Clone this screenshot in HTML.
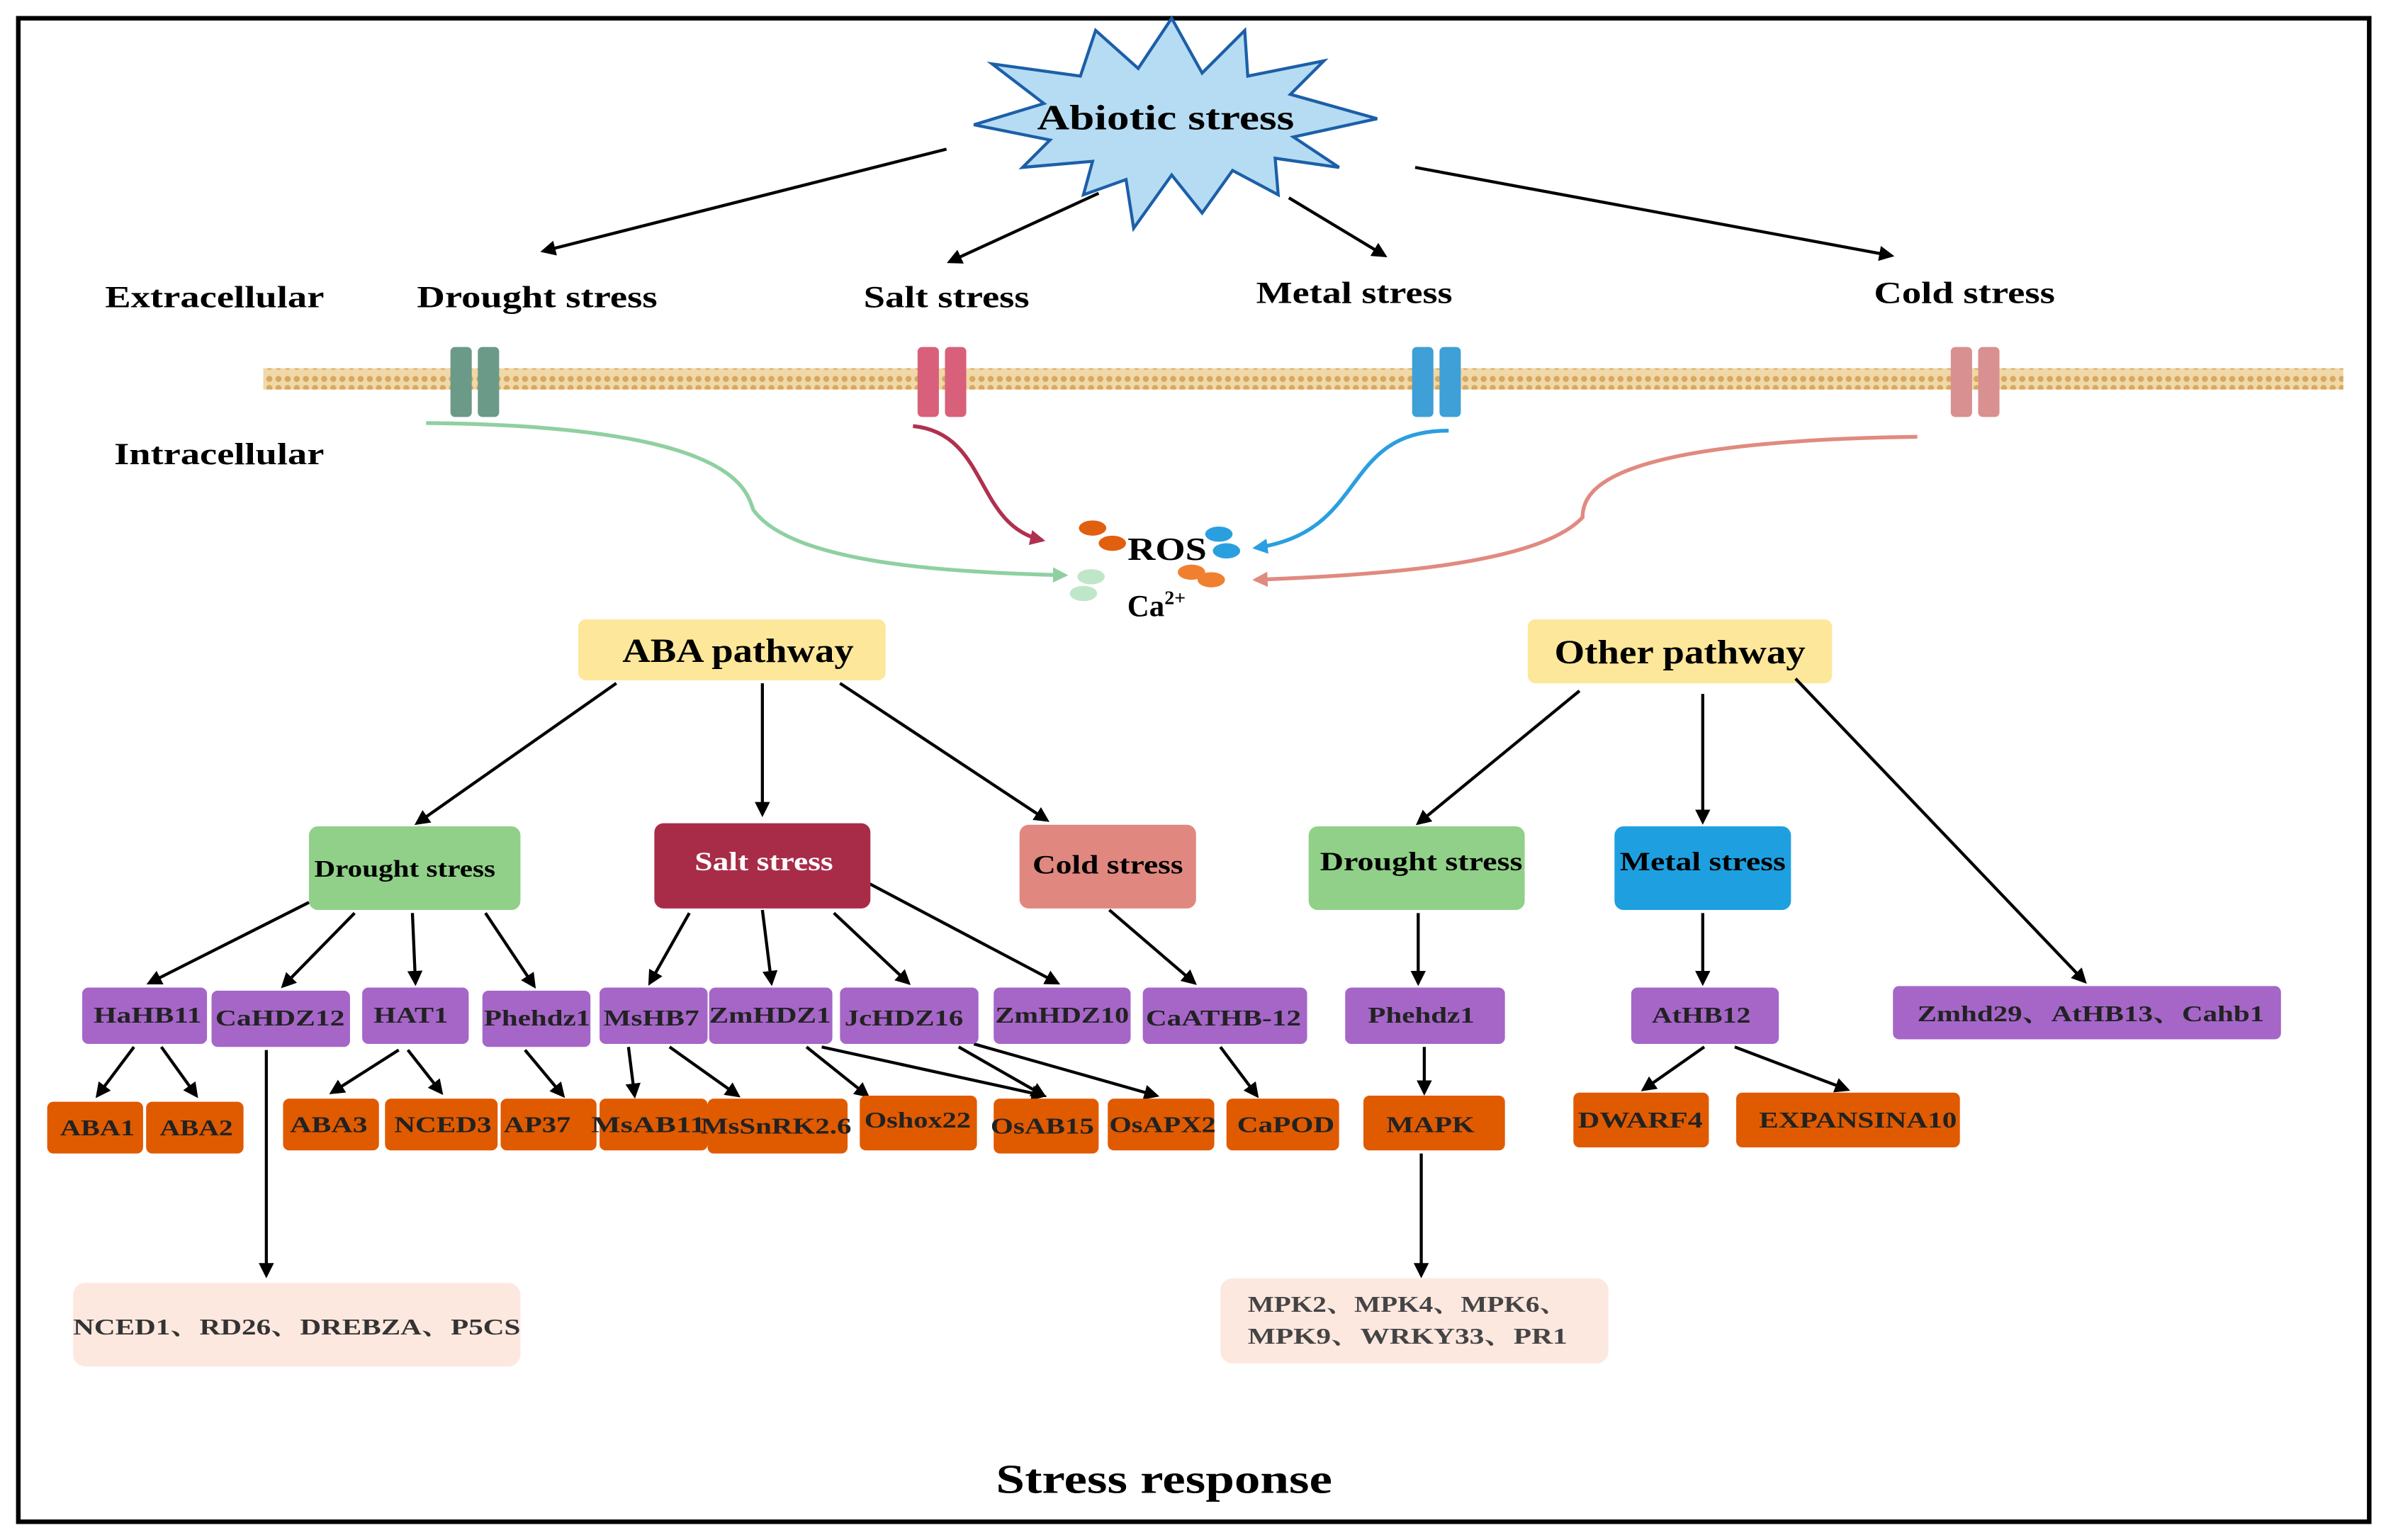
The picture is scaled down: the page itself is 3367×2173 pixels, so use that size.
<!DOCTYPE html>
<html><head><meta charset="utf-8"><style>
html,body{margin:0;padding:0;background:#fff}
svg{display:block}
text{font-family:"Liberation Serif","Noto Serif CJK SC",serif;font-weight:bold}
</style></head><body>
<svg width="3367" height="2173" viewBox="0 0 1568 1012" xmlns="http://www.w3.org/2000/svg">
<defs>
<marker id="a" markerWidth="10" markerHeight="10" refX="8" refY="5" orient="auto" markerUnits="userSpaceOnUse"><path d="M0,0 L10,5 L0,10 z" fill="#000"/></marker>
<marker id="ag" markerWidth="10" markerHeight="10" refX="8" refY="5" orient="auto" markerUnits="userSpaceOnUse"><path d="M0,0 L10,5 L0,10 z" fill="#8fd0a0"/></marker>
<marker id="ar" markerWidth="10" markerHeight="10" refX="8" refY="5" orient="auto" markerUnits="userSpaceOnUse"><path d="M0,0 L10,5 L0,10 z" fill="#b03050"/></marker>
<marker id="ab" markerWidth="10" markerHeight="10" refX="8" refY="5" orient="auto" markerUnits="userSpaceOnUse"><path d="M0,0 L10,5 L0,10 z" fill="#2a9fe0"/></marker>
<marker id="as" markerWidth="10" markerHeight="10" refX="8" refY="5" orient="auto" markerUnits="userSpaceOnUse"><path d="M0,0 L10,5 L0,10 z" fill="#e08a80"/></marker>
<pattern id="mem" width="6" height="14" patternUnits="userSpaceOnUse"><rect width="6" height="14" fill="#f0d8a8"/><circle cx="3" cy="3" r="2" fill="#d8a860"/><circle cx="3" cy="11" r="2" fill="#d8a860"/></pattern>
</defs>
<rect x="12" y="12" width="1545" height="988" fill="#fff" stroke="#000" stroke-width="3"/>

<polygon points="770,12 790,48 818,20 820,50 870,40 848,62 905,78 850,90 880,110 838,104 840,128 810,112 790,140 770,115 745,150 740,118 712,128 718,106 672,110 690,92 640,82 686,68 652,42 710,50 720,20 748,45" fill="#b6dcf3" stroke="#1c5fa8" stroke-width="2"/>
<text x="766" y="85" font-size="23" text-anchor="middle" textLength="169" lengthAdjust="spacingAndGlyphs">Abiotic stress</text>

<g stroke="#000" stroke-width="2" fill="none" marker-end="url(#a)">
<line x1="622" y1="98" x2="357" y2="165"/>
<line x1="722" y1="127" x2="624" y2="172"/>
<line x1="847" y1="130" x2="910" y2="168"/>
<line x1="930" y1="110" x2="1243" y2="168"/>
</g>
<g font-size="20" text-anchor="middle" lengthAdjust="spacingAndGlyphs">
<text x="141" y="202" textLength="144" lengthAdjust="spacingAndGlyphs">Extracellular</text>
<text x="353" y="202" textLength="158" lengthAdjust="spacingAndGlyphs">Drought stress</text>
<text x="622" y="202" textLength="109" lengthAdjust="spacingAndGlyphs">Salt stress</text>
<text x="890" y="199" textLength="129" lengthAdjust="spacingAndGlyphs">Metal stress</text>
<text x="1291" y="199" textLength="119" lengthAdjust="spacingAndGlyphs">Cold stress</text>
<text x="144" y="305" textLength="138" lengthAdjust="spacingAndGlyphs">Intracellular</text>
</g>
<rect x="173" y="242" width="1367" height="14" fill="url(#mem)"/>
<g>
<rect x="296" y="228" width="14" height="46" rx="3" fill="#6b9a88"/><rect x="314" y="228" width="14" height="46" rx="3" fill="#6b9a88"/>
<rect x="603" y="228" width="14" height="46" rx="3" fill="#d8607a"/><rect x="621" y="228" width="14" height="46" rx="3" fill="#d8607a"/>
<rect x="928" y="228" width="14" height="46" rx="3" fill="#3ea0d6"/><rect x="946" y="228" width="14" height="46" rx="3" fill="#3ea0d6"/>
<rect x="1282" y="228" width="14" height="46" rx="3" fill="#d89090"/><rect x="1300" y="228" width="14" height="46" rx="3" fill="#d89090"/>
</g>
<g fill="none" stroke-width="2.5">
<path d="M280,278 C480,280 490,320 495,335 C520,370 620,376 700,378" stroke="#8fd0a0" marker-end="url(#ag)"/>
<path d="M600,280 C650,285 640,345 685,355" stroke="#b03050" marker-end="url(#ar)"/>
<path d="M952,283 C880,283 900,350 825,360" stroke="#2a9fe0" marker-end="url(#ab)"/>
<path d="M1260,287 C1060,290 1040,320 1040,340 C1010,372 900,378 825,381" stroke="#e08a80" marker-end="url(#as)"/>
</g>
<ellipse cx="718" cy="347" rx="9" ry="5" fill="#e06010"/><ellipse cx="731" cy="357" rx="9" ry="5" fill="#e06010"/>
<ellipse cx="801" cy="351" rx="9" ry="5" fill="#2a9fe0"/><ellipse cx="806" cy="362" rx="9" ry="5" fill="#2a9fe0"/>
<ellipse cx="717" cy="379" rx="9" ry="5" fill="#bfe6c8"/><ellipse cx="712" cy="390" rx="9" ry="5" fill="#bfe6c8"/>
<ellipse cx="783" cy="376" rx="9" ry="5" fill="#f08030"/><ellipse cx="796" cy="381" rx="9" ry="5" fill="#f08030"/>
<text x="767" y="368" font-size="21" text-anchor="middle" textLength="52" lengthAdjust="spacingAndGlyphs">ROS</text>
<text x="760" y="405" font-size="20" text-anchor="middle">Ca<tspan font-size="13" dy="-8">2+</tspan></text>

<rect x="380" y="407" width="202" height="40" rx="5" fill="#fde79a"/>
<text x="485" y="435" font-size="22" text-anchor="middle" textLength="152" lengthAdjust="spacingAndGlyphs">ABA pathway</text>
<rect x="1004" y="407" width="200" height="42" rx="5" fill="#fde79a"/>
<text x="1104" y="436" font-size="22" text-anchor="middle" textLength="165" lengthAdjust="spacingAndGlyphs">Other pathway</text>

<g stroke="#000" stroke-width="2" fill="none" marker-end="url(#a)">
<line x1="405" y1="449" x2="274" y2="541"/>
<line x1="501" y1="449" x2="501" y2="535"/>
<line x1="552" y1="449" x2="688" y2="539"/>
<line x1="1038" y1="454" x2="932" y2="541"/>
<line x1="1119" y1="456" x2="1119" y2="540"/>
<line x1="1180" y1="446" x2="1370" y2="645"/>
<line x1="203" y1="593" x2="98" y2="646"/>
<line x1="233" y1="600" x2="186" y2="648"/>
<line x1="271" y1="600" x2="273" y2="646"/>
<line x1="319" y1="600" x2="351" y2="648"/>
<line x1="453" y1="600" x2="427" y2="646"/>
<line x1="501" y1="598" x2="507" y2="646"/>
<line x1="548" y1="600" x2="597" y2="646"/>
<line x1="570" y1="580" x2="695" y2="646"/>
<line x1="729" y1="598" x2="785" y2="646"/>
<line x1="932" y1="600" x2="932" y2="646"/>
<line x1="1119" y1="600" x2="1119" y2="646"/>
<line x1="88" y1="688" x2="64" y2="720"/>
<line x1="106" y1="688" x2="129" y2="720"/>
<line x1="262" y1="690" x2="218" y2="718"/>
<line x1="268" y1="690" x2="290" y2="718"/>
<line x1="345" y1="690" x2="370" y2="720"/>
<line x1="413" y1="688" x2="417" y2="720"/>
<line x1="440" y1="688" x2="485" y2="720"/>
<line x1="530" y1="688" x2="570" y2="720"/>
<line x1="540" y1="688" x2="686" y2="720"/>
<line x1="630" y1="688" x2="686" y2="720"/>
<line x1="640" y1="686" x2="760" y2="720"/>
<line x1="802" y1="688" x2="826" y2="720"/>
<line x1="936" y1="688" x2="936" y2="718"/>
<line x1="1120" y1="688" x2="1080" y2="716"/>
<line x1="1140" y1="688" x2="1214" y2="716"/>
<line x1="175" y1="690" x2="175" y2="838"/>
<line x1="934" y1="758" x2="934" y2="838"/>
</g>

<g font-size="16" text-anchor="middle">
<rect x="203" y="543" width="139" height="55" rx="6" fill="#90d088"/><text x="266" y="576" textLength="119" lengthAdjust="spacingAndGlyphs">Drought stress</text>
<rect x="430" y="541" width="142" height="56" rx="6" fill="#a82c48"/><text x="502" y="572" fill="#fff" font-size="17" textLength="91" lengthAdjust="spacingAndGlyphs">Salt stress</text>
<rect x="670" y="542" width="116" height="55" rx="6" fill="#e08880"/><text x="728" y="574" font-size="17" textLength="99" lengthAdjust="spacingAndGlyphs">Cold stress</text>
<rect x="860" y="543" width="142" height="55" rx="6" fill="#90d088"/><text x="934" y="572" font-size="17" textLength="133" lengthAdjust="spacingAndGlyphs">Drought stress</text>
<rect x="1061" y="543" width="116" height="55" rx="6" fill="#1ea0e0"/><text x="1119" y="572" font-size="17" textLength="109" lengthAdjust="spacingAndGlyphs">Metal stress</text>
</g>

<g font-size="15" text-anchor="middle" fill="#222">
<g fill="#a566c8">
<rect x="54" y="649" width="82" height="37" rx="4"/>
<rect x="139" y="651" width="91" height="37" rx="4"/>
<rect x="238" y="649" width="70" height="37" rx="4"/>
<rect x="317" y="651" width="71" height="37" rx="4"/>
<rect x="394" y="649" width="71" height="37" rx="4"/>
<rect x="466" y="649" width="81" height="37" rx="4"/>
<rect x="552" y="649" width="91" height="37" rx="4"/>
<rect x="653" y="649" width="90" height="37" rx="4"/>
<rect x="751" y="649" width="108" height="37" rx="4"/>
<rect x="884" y="649" width="105" height="37" rx="4"/>
<rect x="1072" y="649" width="97" height="37" rx="4"/>
<rect x="1244" y="648" width="255" height="35" rx="4"/>
</g>
<text x="97" y="672" textLength="71" lengthAdjust="spacingAndGlyphs">HaHB11</text>
<text x="184" y="674" textLength="85" lengthAdjust="spacingAndGlyphs">CaHDZ12</text>
<text x="270" y="672" textLength="49" lengthAdjust="spacingAndGlyphs">HAT1</text>
<text x="353" y="674" textLength="70" lengthAdjust="spacingAndGlyphs">Phehdz1</text>
<text x="428" y="674" textLength="63" lengthAdjust="spacingAndGlyphs">MsHB7</text>
<text x="506" y="672" textLength="80" lengthAdjust="spacingAndGlyphs">ZmHDZ1</text>
<text x="594" y="674" textLength="78" lengthAdjust="spacingAndGlyphs">JcHDZ16</text>
<text x="698" y="672" textLength="88" lengthAdjust="spacingAndGlyphs">ZmHDZ10</text>
<text x="804" y="674" textLength="102" lengthAdjust="spacingAndGlyphs">CaATHB-12</text>
<text x="934" y="672" textLength="70" lengthAdjust="spacingAndGlyphs">Phehdz1</text>
<text x="1118" y="672" textLength="65" lengthAdjust="spacingAndGlyphs">AtHB12</text>
<text x="1374" y="671" textLength="228" lengthAdjust="spacingAndGlyphs">Zmhd29、AtHB13、Cahb1</text>

<g fill="#e05a00">
<rect x="31" y="724" width="63" height="34" rx="4"/>
<rect x="96" y="724" width="64" height="34" rx="4"/>
<rect x="186" y="722" width="63" height="34" rx="4"/>
<rect x="253" y="722" width="74" height="34" rx="4"/>
<rect x="329" y="722" width="63" height="34" rx="4"/>
<rect x="394" y="722" width="71" height="34" rx="4"/>
<rect x="465" y="722" width="92" height="36" rx="4"/>
<rect x="565" y="720" width="77" height="36" rx="4"/>
<rect x="653" y="722" width="69" height="36" rx="4"/>
<rect x="728" y="722" width="70" height="34" rx="4"/>
<rect x="806" y="722" width="74" height="34" rx="4"/>
<rect x="896" y="720" width="93" height="36" rx="4"/>
<rect x="1034" y="718" width="89" height="36" rx="4"/>
<rect x="1141" y="718" width="147" height="36" rx="4"/>
</g>
<text x="64" y="746" textLength="49" lengthAdjust="spacingAndGlyphs">ABA1</text>
<text x="129" y="746" textLength="48" lengthAdjust="spacingAndGlyphs">ABA2</text>
<text x="216" y="744" textLength="51" lengthAdjust="spacingAndGlyphs">ABA3</text>
<text x="291" y="744" textLength="64" lengthAdjust="spacingAndGlyphs">NCED3</text>
<text x="353" y="744" textLength="44" lengthAdjust="spacingAndGlyphs">AP37</text>
<text x="426" y="744" textLength="75" lengthAdjust="spacingAndGlyphs">MsAB11</text>
<text x="510" y="745" textLength="99" lengthAdjust="spacingAndGlyphs">MsSnRK2.6</text>
<text x="603" y="741" textLength="70" lengthAdjust="spacingAndGlyphs">Oshox22</text>
<text x="685" y="745" textLength="68" lengthAdjust="spacingAndGlyphs">OsAB15</text>
<text x="764" y="744" textLength="70" lengthAdjust="spacingAndGlyphs">OsAPX2</text>
<text x="845" y="744" textLength="64" lengthAdjust="spacingAndGlyphs">CaPOD</text>
<text x="940" y="744" textLength="58" lengthAdjust="spacingAndGlyphs">MAPK</text>
<text x="1078" y="741" textLength="82" lengthAdjust="spacingAndGlyphs">DWARF4</text>
<text x="1221" y="741" textLength="130" lengthAdjust="spacingAndGlyphs">EXPANSINA10</text>

<rect x="48" y="843" width="294" height="55" rx="8" fill="#fde8e0"/>
<text x="195" y="877" fill="#333" textLength="294" lengthAdjust="spacingAndGlyphs">NCED1、RD26、DREBZA、P5CS</text>
<rect x="802" y="840" width="255" height="56" rx="8" fill="#fde8e0"/>
<text x="925" y="862" fill="#444" textLength="210" lengthAdjust="spacingAndGlyphs">MPK2、MPK4、MPK6、</text>
<text x="925" y="883" fill="#444" textLength="210" lengthAdjust="spacingAndGlyphs">MPK9、WRKY33、PR1</text>
</g>

<text x="765" y="981" font-size="27" text-anchor="middle" textLength="221" lengthAdjust="spacingAndGlyphs">Stress response</text>
</svg>
</body></html>
